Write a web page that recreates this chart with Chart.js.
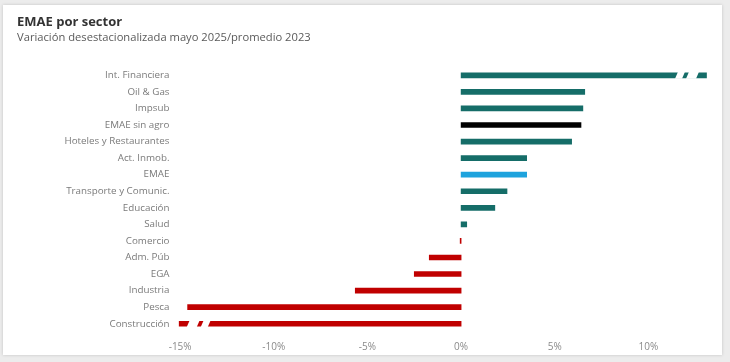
<!DOCTYPE html>
<html>
<head>
<meta charset="utf-8">
<script src="https://cdn.jsdelivr.net/npm/chart.js@4.4.1/dist/chart.umd.min.js"></script>
<style>
  html, body { margin: 0; padding: 0; background: #ececec; }
  #wrap { position: relative; width: 730px; height: 362px; overflow: hidden; }
  #card {
    position: absolute; left: 3px; top: 5px; width: 719px; height: 350px;
    background: #ffffff; box-shadow: 0 0 3px rgba(0,0,0,0.18);
  }
  #myChart { position: absolute; left: 0; top: 0; }
</style>
</head>
<body>
<div id="wrap">
  <div id="card"></div>
  <canvas id="myChart" width="730" height="362"></canvas>
</div>
<script>
// Datos (variación %, valores mostrados en la escala)
var sectors = ['Int. Financiera', 'Oil & Gas', 'Impsub', 'EMAE sin agro', 'Hoteles y Restaurantes',
  'Act. Inmob.', 'EMAE', 'Transporte y Comunic.', 'Educación', 'Salud', 'Comercio',
  'Adm. Púb', 'EGA', 'Industria', 'Pesca', 'Construcción'];
var values = [13.1, 6.6, 6.5, 6.4, 5.9, 3.5, 3.5, 2.45, 1.8, 0.3, -0.05, -1.7, -2.5, -5.65, -14.6, -15.05];
// barras cortadas (valor fuera de escala)
var truncated = ['Int. Financiera', 'Construcción'];
var tickValues = [-15, -10, -5, 0, 5, 10];

var TEAL = '#156d68';
var RED = '#c00000';

function barColor(name, v) {
  if (name == 'EMAE sin agro') return '#000000';
  if (name == 'EMAE') return '#1ea3dd';
  return v < 0 ? RED : TEAL;
}

// Dibuja los cortes blancos en las barras que salen de la escala
var breakPlugin = {
  id: 'breaks',
  afterDatasetsDraw: function(chart) {
    var ctx = chart.ctx;
    var meta = chart.getDatasetMeta(0);
    meta.data.forEach(function(bar, i) {
      if (truncated.indexOf(sectors[i]) < 0) return;
      var dir = values[i] < 0 ? -1 : 1;
      var tip = bar.x;
      var h = bar.height + 2;
      // gaps: [offset from tip, width]
      var gaps = [[9, 10], [23, 7]];
      ctx.save();
      ctx.fillStyle = '#ffffff';
      gaps.forEach(function(g) {
        var x1 = tip - dir * g[0];
        var x0 = x1 - dir * g[1];
        var a = Math.min(x0, x1), b = Math.max(x0, x1);
        ctx.beginPath();
        ctx.moveTo(a + 1.5, bar.y - h / 2);
        ctx.lineTo(b + 1.5, bar.y - h / 2);
        ctx.lineTo(b - 1.5, bar.y + h / 2);
        ctx.lineTo(a - 1.5, bar.y + h / 2);
        ctx.closePath();
        ctx.fill();
      });
      ctx.restore();
    });
  }
};

var chart = new Chart(document.getElementById('myChart'), {
  type: 'bar',
  data: {
    labels: sectors,
    datasets: [{
      data: values,
      backgroundColor: sectors.map(function(s, i) { return barColor(s, values[i]); }),
      barThickness: 5,
      borderWidth: 0
    }]
  },
  options: {
    indexAxis: 'y',
    responsive: false,
    animation: false,
    events: [],
    layout: {
      padding: { left: 17, right: 16, top: 14, bottom: 0 }
    },
    plugins: {
      legend: { display: false },
      tooltip: { enabled: false },
      title: {
        display: true,
        text: 'EMAE por sector',
        align: 'start',
        color: '#333333',
        font: { family: 'Open Sans', size: 13, weight: 'bold' },
        padding: { top: 0, bottom: 1 }
      },
      subtitle: {
        display: true,
        text: 'Variación desestacionalizada mayo 2025/promedio 2023',
        align: 'start',
        color: '#5a5a5a',
        font: { family: 'Open Sans', size: 11.2 },
        padding: { top: 0, bottom: 23 }
      }
    },
    scales: {
      x: {
        type: 'linear',
        min: -15.3,
        max: 13.5,
        grid: { display: false, drawTicks: false },
        border: { display: false },
        afterBuildTicks: function(axis) {
          axis.ticks = tickValues.map(function(v) { return { value: v }; });
        },
        ticks: {
          color: '#8a8a8a',
          padding: 9,
          font: { family: 'Open Sans', size: 10 },
          callback: function(v) { return v + '%'; }
        }
      },
      y: {
        grid: { display: false, drawTicks: false },
        border: { display: false },
        afterFit: function(axis) { axis.width = 157.5; },
        ticks: {
          color: '#7a7a7a',
          padding: 5,
          autoSkip: false,
          font: { family: 'Open Sans', size: 9.8 }
        }
      }
    }
  },
  plugins: [breakPlugin]
});
</script>
</body>
</html>
